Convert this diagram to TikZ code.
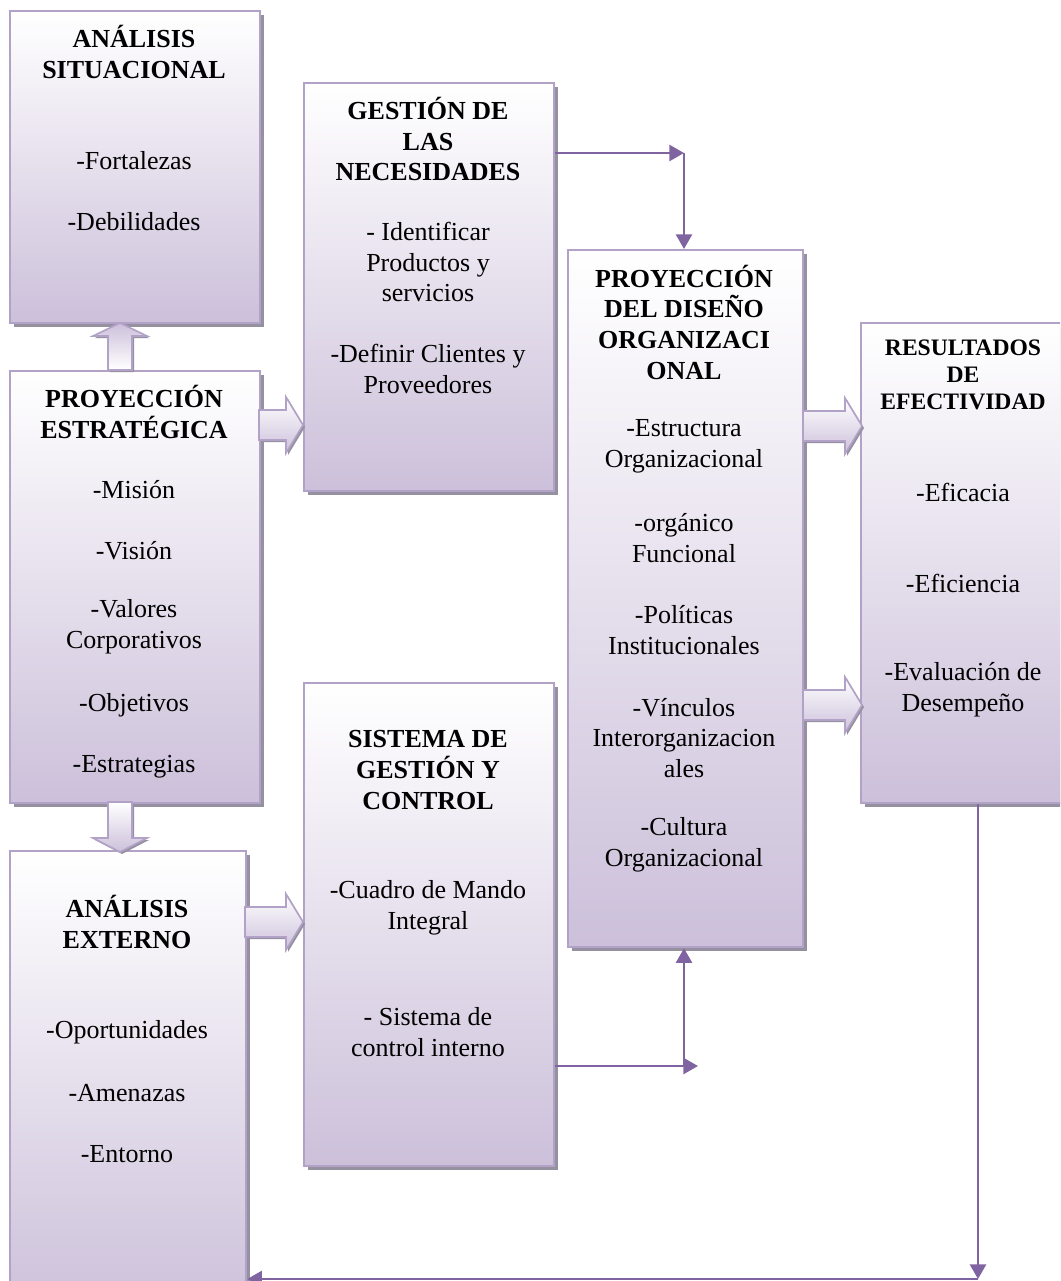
\documentclass[tikz,border=0pt]{standalone}
\usepackage{fontspec}
\setmainfont{Liberation Serif}
\usetikzlibrary{arrows.meta,shadows}
\definecolor{lav}{RGB}{204,192,218}
\definecolor{bord}{RGB}{178,162,199}
\definecolor{shad}{RGB}{150,145,160}
\definecolor{conncol}{RGB}{128,100,162}
\newcommand\blockright[3]{%
  \shade[barr, top color=white, bottom color=lav]
  (#1,#3-15) -- (#2-17,#3-15) -- (#2-17,#3-28) -- (#2,#3) -- (#2-17,#3+28) -- (#2-17,#3+15) -- (#1,#3+15) -- cycle;}
\newcommand\blockup[3]{% xc, ybottom, ytip
  \shade[barr, top color=lav, bottom color=white]
  (#1-12,#2) -- (#1-12,#3+13) -- (#1-27,#3+13) -- (#1,#3) -- (#1+27,#3+13) -- (#1+12,#3+13) -- (#1+12,#2) -- cycle;}
\newcommand\blockdown[3]{% xc, ytop, ytip
  \shade[barr, top color=white, bottom color=lav]
  (#1-12,#2) -- (#1-12,#3-14) -- (#1-27,#3-14) -- (#1,#3) -- (#1+27,#3-14) -- (#1+12,#3-14) -- (#1+12,#2) -- cycle;}
\begin{document}
\begin{tikzpicture}[x=0.75pt,y=-0.75pt,
  box/.style={draw=bord, line width=1.7pt, top color=white, bottom color=lav,
    anchor=north west, inner sep=0pt,
    drop shadow={shadow xshift=3pt, shadow yshift=-3pt, fill=shad, opacity=1}},
  barr/.style={draw=bord, line width=1.2pt,
    drop shadow={shadow xshift=1.5pt, shadow yshift=-1.5pt, fill=shad, opacity=1}},
  txt/.style={align=center, inner sep=0pt, text=black, font=\fontsize{19.5pt}{23pt}\selectfont},
  ttl/.style={txt, font=\fontsize{19.5pt}{23pt}\selectfont\bfseries},
  ttlsmall/.style={txt, font=\fontsize{17.7pt}{20.3pt}\selectfont\bfseries},
  conn/.style={draw=conncol, line width=2pt, -{Triangle[length=11pt,width=12pt]}}]
\path[use as bounding box, clip] (0,0) rectangle (1060,1281);
\fill[white] (0,0) rectangle (1060,1281);

% boxes
\node[box, minimum width=187.5pt, minimum height=234pt] (b1) at (9,10) {};
\node[box, minimum width=187.5pt, minimum height=324pt] (b2) at (9,370) {};
\node[box, minimum width=177pt, minimum height=345pt] (b3) at (9,850) {};
\node[box, minimum width=187.5pt, minimum height=306pt] (gest) at (303,82) {};
\node[box, minimum width=187.5pt, minimum height=362.25pt] (sis) at (303,682) {};
\node[box, minimum width=176.25pt, minimum height=522.75pt] (dis) at (567,249) {};
\node[box, minimum width=154.5pt, minimum height=360pt] (res) at (860,322) {};

% block arrows
\blockup{120}{370}{323}
\blockdown{120}{802}{852}
\blockright{259}{303}{425}
\blockright{245}{303}{922}
\blockright{803}{862}{426}
\blockright{803}{862}{705}

% texts box 1
\node[ttl] (t11) at (134,52) {ANÁLISIS\\SITUACIONAL};
\node[txt] (t12) at (134,161) {-Fortalezas};
\node[txt] (t13) at (134,222) {-Debilidades};
% box 2
\node[ttl] (t21) at (134,412) {PROYECCIÓN\\ESTRATÉGICA};
\node[txt] (t22) at (134,490) {-Misión};
\node[txt] (t23) at (134,551) {-Visión};
\node[txt] (t24) at (134,627) {-Valores\\Corporativos};
\node[txt] (t25) at (134,705) {-Objetivos};
\node[txt] (t26) at (134,767) {-Estrategias};
% box 3
\node[ttl] (t31) at (127,922) {ANÁLISIS\\EXTERNO};
\node[txt] (t32) at (127,1032) {-Oportunidades};
\node[txt] (t33) at (127,1093) {-Amenazas};
\node[txt] (t34) at (127,1154) {-Entorno};
% gestion
\node[ttl] (t41) at (428,139) {GESTIÓN DE\\LAS\\NECESIDADES};
\node[txt] (t42) at (428,262) {- Identificar\\Productos y\\servicios};
\node[txt] (t43) at (428,369) {-Definir Clientes y\\Proveedores};
% sistema
\node[ttl] (t51) at (428,770) {SISTEMA DE\\GESTIÓN Y\\CONTROL};
\node[txt] (t52) at (428,908) {-Cuadro de Mando\\Integral};
\node[txt] (t53) at (428,1032) {- Sistema de\\control interno};
% diseño
\node[ttl] (t61) at (684,322) {PROYECCIÓN\\DEL DISEÑO\\ORGANIZACI\\ONAL};
\node[txt] (t62) at (684,446) {-Estructura\\Organizacional};
\node[txt] (t63) at (684,538) {-orgánico\\Funcional};
\node[txt] (t64) at (684,630) {-Políticas\\Institucionales};
\node[txt] (t65) at (684,738) {-Vínculos\\Interorganizacion\\ales};
\node[txt] (t66) at (684,845) {-Cultura\\Organizacional};
% resultados
\node[ttlsmall] (t71) at (963,375) {RESULTADOS\\DE\\EFECTIVIDAD};
\node[txt] (t72) at (963,492) {-Eficacia};
\node[txt] (t73) at (963,583) {-Eficiencia};
\node[txt] (t74) at (963,690) {-Evaluación de\\Desempeño};

% thin connectors
\coordinate (k1) at (684,153);
\draw[conn] (gest.east |- k1) -- (k1);
\draw[conn] (k1) -- (dis.north -| k1);
\coordinate (k2) at (698,1066);
\coordinate (k3) at (684,1066);
\draw[conn] (sis.east |- k2) -- (k2);
\draw[conn] (k3) -- (dis.south -| k3);
\coordinate (k4) at (978,1279);
\draw[conn] (res.south -| k4) -- (k4);
\draw[conn] (k4) -- (b3.east |- k4);
\end{tikzpicture}
\end{document}
